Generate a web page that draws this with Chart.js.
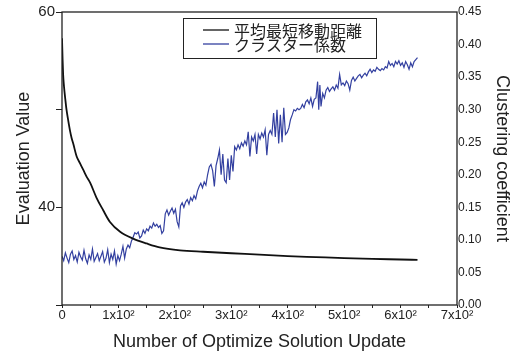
<!DOCTYPE html>
<html>
<head>
<meta charset="utf-8">
<script src="https://cdn.jsdelivr.net/npm/chart.js@4/dist/chart.umd.min.js"></script>
<style>
  html, body { margin: 0; padding: 0; background: #fff; }
  #wrap { width: 518px; height: 357px; }
</style>
</head>
<body>
<div id="wrap"><canvas id="c" width="518" height="357"></canvas></div>
<script>
// Series names (legend)
const seriesNames = ['平均最短移動距離', 'クラスター係数'];

// Average shortest path length vs. number of updates (left axis)
const evalUpdates = [0, 1, 2, 3.5, 6, 8, 11, 14, 17, 20, 26, 32, 38, 44, 50, 61, 73, 85, 103, 126,
  150, 173, 209, 250, 300, 350, 400, 450, 500, 550, 600, 630];
const evalValues = [57.3, 55.2, 53.6, 52.4, 51.0, 50.0, 48.9, 47.9, 47.1, 46.5, 45.2, 44.5, 43.8, 43.1, 42.5,
  41.0, 39.7, 38.5, 37.5, 36.8, 36.3, 35.9, 35.6, 35.45, 35.3, 35.15, 35.0, 34.9, 34.8, 34.72, 34.66, 34.62];

// Clustering coefficient vs. number of updates (right axis)
const clusterUpdates = [
  0, 3, 6, 9, 12, 15, 18, 21, 24, 27, 30, 33, 36, 39, 42, 45, 48, 51, 54, 57, 60, 63, 66, 69, 72, 75, 78, 81, 84, 87, 90, 93, 96, 99, 102,
  105, 108, 111, 114, 117, 120, 123, 126, 129, 132, 135, 138, 141, 144, 147, 150, 153, 156, 159, 162, 165, 168, 171, 174, 177, 180, 183, 186, 189, 192, 195, 198, 201,
  204, 207, 210, 213, 216, 219, 222, 225, 228, 231, 234, 237, 240, 243, 246, 249, 252, 255, 258, 261, 264, 267, 270, 273, 276, 279, 282, 285, 288, 291, 294, 297, 300,
  303, 306, 309, 312, 315, 318, 321, 324, 327, 330, 333, 336, 339, 342, 345, 348, 351, 354, 357, 360, 363, 366, 369, 372, 375, 378, 381, 384, 387, 390, 393, 396, 399,
  402, 405, 408, 411, 414, 417, 420, 423, 426, 429, 432, 435, 438, 441, 444, 447, 450,
  453, 455, 457, 459,
  462, 465, 468, 471, 474, 477, 480, 483, 486, 489, 492, 495, 498, 501, 504, 507, 510, 513, 516, 519, 522, 525, 528, 531, 534, 537, 540, 543, 546, 549, 552, 555, 558,
  561, 564, 567, 570, 573, 576, 579, 582, 585, 588, 591, 594, 597, 600, 603, 606, 609, 612, 615, 618, 621, 624, 627, 630];
const clusterValues = [
  0.075, 0.068, 0.080, 0.072, 0.065, 0.078, 0.083, 0.070, 0.076, 0.066, 0.081, 0.074, 0.069, 0.084, 0.071, 0.064, 0.077, 0.070, 0.086, 0.067, 0.073, 0.079, 0.068, 0.075, 0.082, 0.066, 0.072, 0.085, 0.065, 0.078, 0.070, 0.083, 0.063, 0.076, 0.068,
  0.078, 0.090, 0.072, 0.086, 0.092, 0.088, 0.098, 0.104, 0.111, 0.109, 0.112, 0.103, 0.106, 0.115, 0.110, 0.117, 0.114, 0.121, 0.118, 0.126, 0.121, 0.124, 0.119, 0.122, 0.110, 0.114, 0.140, 0.146, 0.138, 0.144, 0.149, 0.141, 0.147,
  0.128, 0.120, 0.152, 0.157, 0.150, 0.158, 0.162, 0.155, 0.165, 0.160, 0.168, 0.163, 0.175, 0.182, 0.187, 0.180, 0.189, 0.184, 0.200, 0.212, 0.216, 0.206, 0.182, 0.214, 0.225, 0.238, 0.200, 0.232, 0.192, 0.188, 0.225, 0.192, 0.230,
  0.205, 0.243, 0.238, 0.246, 0.240, 0.249, 0.244, 0.252, 0.246, 0.266, 0.228, 0.258, 0.252, 0.262, 0.232, 0.262, 0.255, 0.264, 0.258, 0.269, 0.230, 0.262, 0.268, 0.262, 0.295, 0.258, 0.300, 0.248, 0.292, 0.250, 0.303, 0.262, 0.265,
  0.272, 0.285, 0.292, 0.300, 0.298, 0.302, 0.300, 0.302, 0.308, 0.303, 0.312, 0.315, 0.309, 0.318, 0.305, 0.316, 0.318,
  0.343, 0.300, 0.338, 0.305,
  0.325, 0.318, 0.330, 0.334, 0.328, 0.332, 0.335, 0.330, 0.338, 0.333, 0.354, 0.338, 0.341, 0.337, 0.344, 0.340, 0.330, 0.345, 0.350, 0.344, 0.348, 0.352, 0.354, 0.349, 0.353, 0.356, 0.352, 0.358, 0.362, 0.357, 0.361, 0.359, 0.365,
  0.362, 0.360, 0.363, 0.361, 0.366, 0.364, 0.374, 0.368, 0.371, 0.366, 0.374, 0.370, 0.375, 0.368, 0.372, 0.365, 0.374, 0.369, 0.362, 0.372, 0.366, 0.374, 0.377, 0.380];

// Axis tick labels
const xTickLabels = ['0', '1x10²', '2x10²', '3x10²', '4x10²', '5x10²', '6x10²', '7x10²'];
const leftTickLabels = { 40: '40', 60: '60' };

const FONT = 'Arial, "Liberation Sans", Helvetica, sans-serif';
const INK = '#222';

// Frame around the plot area
const frame = {
  id: 'frame',
  afterDatasetsDraw(chart) {
    const { ctx, chartArea: a } = chart;
    ctx.save();
    ctx.strokeStyle = '#222';
    ctx.lineWidth = 1.3;
    ctx.strokeRect(a.left, a.top, a.right - a.left, a.bottom - a.top);
    ctx.restore();
  }
};

// Boxed legend inside the plot area
const boxLegend = {
  id: 'boxLegend',
  afterDraw(chart) {
    const ctx = chart.ctx;
    const x0 = 183, y0 = 18, w = 193, h = 40;
    ctx.save();
    ctx.fillStyle = '#fff';
    ctx.fillRect(x0, y0, w, h);
    ctx.strokeStyle = '#222';
    ctx.lineWidth = 1;
    ctx.strokeRect(x0 + 0.5, y0 + 0.5, w, h);
    chart.data.datasets.forEach((ds, i) => {
      const y = y0 + 12 + i * 14;
      ctx.strokeStyle = ds.borderColor;
      ctx.lineWidth = 1.3;
      ctx.beginPath();
      ctx.moveTo(x0 + 20, y);
      ctx.lineTo(x0 + 46, y);
      ctx.stroke();
      ctx.fillStyle = INK;
      ctx.font = '16px "Noto Sans CJK JP", sans-serif';
      ctx.textBaseline = 'middle';
      ctx.fillText(ds.label, x0 + 51, y + 1);
    });
    ctx.restore();
  }
};

new Chart(document.getElementById('c'), {
  type: 'line',
  data: {
    datasets: [
      {
        label: seriesNames[0],
        data: evalUpdates.map((u, i) => ({ x: u, y: evalValues[i] })),
        yAxisID: 'y',
        borderColor: '#111',
        borderWidth: 1.8,
        pointRadius: 0,
        cubicInterpolationMode: 'monotone',
        fill: false
      },
      {
        label: seriesNames[1],
        data: clusterUpdates.map((u, i) => ({ x: u, y: clusterValues[i] })),
        yAxisID: 'y1',
        borderColor: '#3340a0',
        borderWidth: 1.2,
        pointRadius: 0,
        tension: 0,
        fill: false
      }
    ]
  },
  options: {
    responsive: false,
    animation: false,
    layout: { padding: { top: 12, left: 0, right: 0, bottom: 0 } },
    plugins: { legend: { display: false }, tooltip: { enabled: false } },
    scales: {
      x: {
        type: 'linear',
        min: 0, max: 700,
        afterFit(s) { s.height = 52; },
        border: { display: false },
        grid: { drawOnChartArea: false, tickLength: 3, color: '#222', tickWidth: 1 },
        ticks: {
          stepSize: 50, autoSkip: false, maxRotation: 0, padding: 0,
          color: INK, font: { family: FONT, size: 13 },
          callback: v => (v % 100 === 0 ? xTickLabels[v / 100] : '')
        },
        title: {
          display: true, text: 'Number of Optimize Solution Update',
          color: INK, font: { family: FONT, size: 18 }, padding: { top: 0, bottom: 4 }
        }
      },
      y: {
        position: 'left',
        min: 30, max: 60,
        afterFit(s) { s.width = 62; },
        border: { display: false },
        grid: { drawOnChartArea: false, tickLength: 6, color: '#222' },
        ticks: {
          stepSize: 10, padding: 1,
          color: INK, font: { family: FONT, size: 15 },
          callback: v => leftTickLabels[v] || ''
        },
        title: {
          display: true, text: 'Evaluation Value',
          color: INK, font: { family: FONT, size: 18 }, padding: { top: 13, bottom: 0 }
        }
      },
      y1: {
        position: 'right',
        min: 0, max: 0.45,
        afterFit(s) { s.width = 61; },
        border: { display: false },
        grid: { drawOnChartArea: false, drawTicks: false },
        ticks: {
          stepSize: 0.05, padding: 1,
          color: INK, font: { family: FONT, size: 12 },
          callback: v => v.toFixed(2)
        },
        title: {
          display: true, text: 'Clustering coefficient',
          color: INK, font: { family: FONT, size: 18 }, padding: { top: 5, bottom: 0 }
        }
      }
    }
  },
  plugins: [frame, boxLegend]
});
</script>
</body>
</html>
